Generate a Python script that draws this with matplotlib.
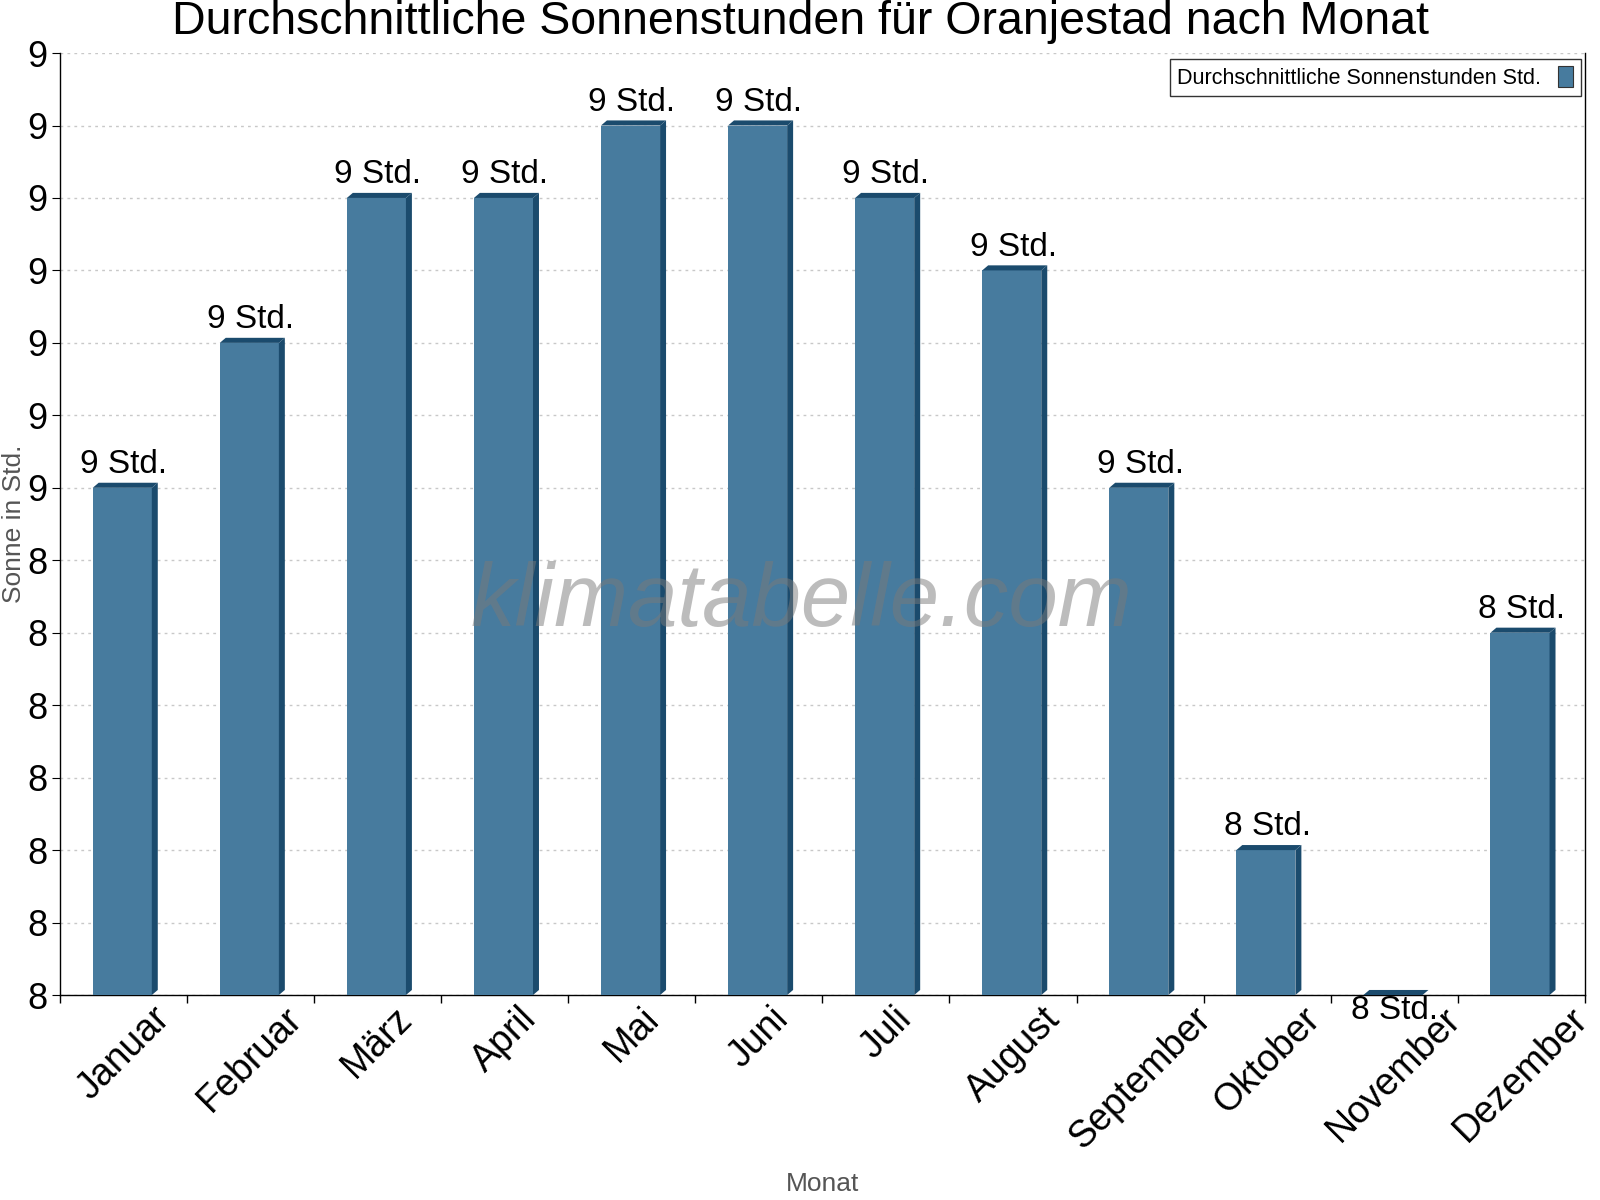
import matplotlib
matplotlib.use("Agg")
import matplotlib.pyplot as plt
from matplotlib.patches import Polygon
from matplotlib.ticker import FixedLocator, FuncFormatter
import numpy as np

plt.rcParams['font.family'] = ['Liberation Sans', 'DejaVu Sans']

months = ["Januar", "Februar", "März", "April", "Mai", "Juni", "Juli",
          "August", "September", "Oktober", "November", "Dezember"]
sun_hours = [8.5, 8.7, 8.9, 8.9, 9.0, 9.0, 8.9, 8.8, 8.5, 8.0, 7.8, 8.3]
y_ticks = [7.8, 7.9, 8.0, 8.1, 8.2, 8.3, 8.4, 8.5, 8.6, 8.7, 8.8, 8.9, 9.0, 9.1]

front = "#477b9e"
dark = "#1b4b6d"

fig = plt.figure(figsize=(16, 12), dpi=100)
ax = fig.add_axes([0.0375, 0.1708, 0.953, 0.785])

y0, y1 = 7.8, 9.1
w = 0.465
dx = 0.047
dy = 0.007
x = np.arange(len(months))

ax.bar(x - 0.01, [v - y0 for v in sun_hours], width=w, bottom=y0,
       color=front, linewidth=0, zorder=3, label="Durchschnittliche Sonnenstunden Std.")
for xi, v in zip(x, sun_hours):
    xl = xi - 0.01 - w / 2
    xr = xi - 0.01 + w / 2
    side = Polygon([(xr, y0), (xr + dx, y0 + dy), (xr + dx, v + dy), (xr, v)],
                   closed=True, color=dark, lw=0, zorder=3)
    top = Polygon([(xl, v), (xl + dx, v + dy), (xr + dx, v + dy), (xr, v)],
                  closed=True, color=dark, lw=0, zorder=3, clip_on=False)
    ax.add_patch(side)
    ax.add_patch(top)
    lbl = "%d Std." % int(np.floor(v + 0.5 + 1e-9))
    if v <= y0 + 1e-9:
        ax.text(xi, v, lbl, ha="center", va="top", fontsize=24, zorder=5)
    else:
        ax.annotate(lbl, (xi, v + dy), xytext=(0, 2), textcoords="offset points",
                    ha="center", va="bottom", fontsize=24, zorder=5)

ax.set_xlim(-0.5, len(months) - 0.5)
ax.set_ylim(y0, y1)
ax.set_xticks(x)
ax.set_xticklabels(months, rotation=45, ha="center", fontsize=27)
ax.xaxis.set_minor_locator(FixedLocator(np.arange(-0.5, len(months), 1.0)))
ax.tick_params(axis="x", which="major", length=0, pad=4)
ax.tick_params(axis="x", which="minor", length=6, width=1, direction="out")
ax.set_yticks(y_ticks)
ax.yaxis.set_major_formatter(FuncFormatter(lambda v, p: "%d" % int(np.floor(v + 0.5 + 1e-9))))
ax.tick_params(axis="y", labelsize=26, length=6, direction="out", pad=3)

ax.grid(axis="y", color="#c8c8c8", linestyle=(0, (2, 3)), linewidth=1, zorder=0)
ax.spines["top"].set_visible(False)
for s in ["left", "bottom", "right"]:
    ax.spines[s].set_color("black")
    ax.spines[s].set_linewidth(1)

ax.set_ylabel("Sonne in Std.", fontsize=19, color="#555555")
ax.yaxis.set_label_coords(-0.022, 0.5)
ax.set_xlabel("Monat", fontsize=19, color="#555555")
ax.xaxis.set_label_coords(0.5, -0.188)

fig.text(0.5, 0.982, "Durchschnittliche Sonnenstunden für Oranjestad nach Monat",
         ha="center", va="center", fontsize=33.5)

ax.text(0.486, 0.416, "klimatabelle.com", transform=ax.transAxes, ha="center", va="center",
        fontsize=64, style="italic", color="#7a7a7a", alpha=0.5, zorder=6)

leg = ax.legend(loc="upper right", bbox_to_anchor=(0.9975, 0.994), borderaxespad=0,
                markerfirst=False, fontsize=15.5, frameon=True, fancybox=False,
                handlelength=0.7, handleheight=1.1, borderpad=0.35, handletextpad=0.8)
leg.get_frame().set_edgecolor("black")
leg.get_frame().set_linewidth(1)
for h in leg.legend_handles:
    h.set_edgecolor("#333333")
    h.set_linewidth(0.8)

fig.savefig("out.png", dpi=100)
